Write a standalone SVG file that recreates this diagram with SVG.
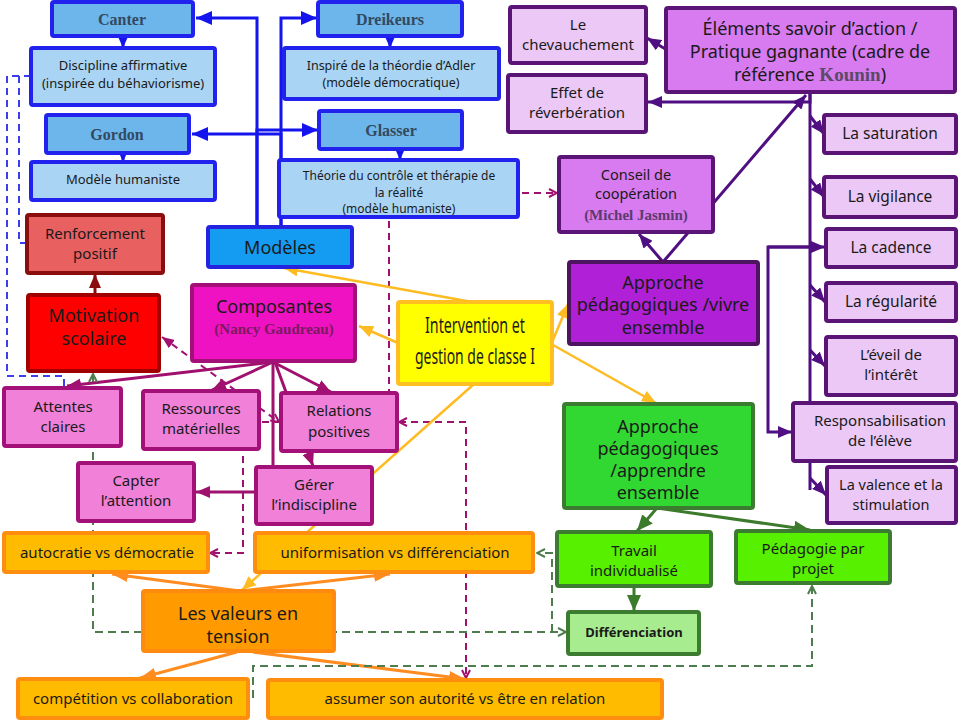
<svg xmlns="http://www.w3.org/2000/svg" width="960" height="720" viewBox="0 0 960 720">
<defs>
<style>
.t{font-family:"Noto Sans","DejaVu Sans",sans-serif;fill:#1a1a1a;text-anchor:middle}
.sf{font-family:"Liberation Serif","Times New Roman",serif;font-weight:bold;text-anchor:middle}
rect{stroke-width:4}
.b1{fill:#6cb6ec;stroke:#2222ee}
.b2{fill:#aad4f4;stroke:#2222ee}
.b3{fill:#149cf2;stroke:#2424e0}
.p1{fill:#d87af0;stroke:#5a1476}
.p2{fill:#ecc8f6;stroke:#5a1476}
.p3{fill:#b020d6;stroke:#4d1460}
.m1{fill:#ee12c2;stroke:#a31078}
.m2{fill:#f080d8;stroke:#a31078}
.r1{fill:#e86060;stroke:#8b0e0e}
.r2{fill:#ff0000;stroke:#a00000}
.y1{fill:#ffff00;stroke:#ffbe22}
.o1{fill:#ffbb00;stroke:#ff8e10}
.o2{fill:#ff9a00;stroke:#ff8a10}
.g1{fill:#32d832;stroke:#3c7c30}
.g2{fill:#56f000;stroke:#3c7c30}
.g3{fill:#a8ec90;stroke:#3c7c30}
.c{fill:none;stroke-linejoin:miter}
.cb{stroke:#1414ee;stroke-width:3}
.cp{stroke:#4f0f82;stroke-width:3}
.cm{stroke:#a0106e;stroke-width:3}
.cr{stroke:#8b0e0e;stroke-width:3}
.cy{stroke:#ffbb22;stroke-width:2.5}
.co{stroke:#ff8c20;stroke-width:3}
.cg{stroke:#3c7a2c;stroke-width:3}
.db{stroke:#3c3cf0;stroke-width:2;stroke-dasharray:7 5}
.dm{stroke:#a0106e;stroke-width:2;stroke-dasharray:7 5}
.dg{stroke:#4d7d4d;stroke-width:2;stroke-dasharray:8 5}
</style>
<marker id="aB" viewBox="0 0 16 14" refX="16" refY="7" markerWidth="16" markerHeight="14" markerUnits="userSpaceOnUse" orient="auto"><path d="M0,0L16,7L0,14z" fill="#1414ee"/></marker>
<marker id="aP" viewBox="0 0 14 12" refX="14" refY="6" markerWidth="14" markerHeight="12" markerUnits="userSpaceOnUse" orient="auto"><path d="M0,0L14,6L0,12z" fill="#4f0f82"/></marker>
<marker id="aM" viewBox="0 0 14 12" refX="14" refY="6" markerWidth="14" markerHeight="12" markerUnits="userSpaceOnUse" orient="auto"><path d="M0,0L14,6L0,12z" fill="#a0106e"/></marker>
<marker id="aR" viewBox="0 0 14 12" refX="14" refY="6" markerWidth="14" markerHeight="12" markerUnits="userSpaceOnUse" orient="auto"><path d="M0,0L14,6L0,12z" fill="#8b0e0e"/></marker>
<marker id="aY" viewBox="0 0 14 12" refX="14" refY="6" markerWidth="14" markerHeight="12" markerUnits="userSpaceOnUse" orient="auto"><path d="M0,0L14,6L0,12z" fill="#ffbb22"/></marker>
<marker id="aO" viewBox="0 0 16 12" refX="16" refY="6" markerWidth="16" markerHeight="12" markerUnits="userSpaceOnUse" orient="auto"><path d="M0,0L16,6L0,12z" fill="#ff8c20"/></marker>
<marker id="aG" viewBox="0 0 16 14" refX="16" refY="7" markerWidth="16" markerHeight="14" markerUnits="userSpaceOnUse" orient="auto"><path d="M0,0L16,7L0,14z" fill="#3c7a2c"/></marker>
<marker id="dM" viewBox="0 0 10 10" refX="9" refY="5" markerWidth="10" markerHeight="10" markerUnits="userSpaceOnUse" orient="auto-start-reverse"><path d="M1,1L9,5L1,9" fill="none" stroke="#a0106e" stroke-width="2"/></marker>
<marker id="fM" viewBox="0 0 12 10" refX="12" refY="5" markerWidth="12" markerHeight="10" markerUnits="userSpaceOnUse" orient="auto-start-reverse"><path d="M0,0L12,5L0,10z" fill="#a0106e"/></marker>
<marker id="dG" viewBox="0 0 10 10" refX="9" refY="5" markerWidth="10" markerHeight="10" markerUnits="userSpaceOnUse" orient="auto-start-reverse"><path d="M1,1L9,5L1,9" fill="none" stroke="#4d7d4d" stroke-width="2"/></marker>
</defs>
<rect x="0" y="0" width="960" height="720" fill="#ffffff" style="stroke:none"/>

<g id="connectors" class="c">
<path class="c cb" d="M257,227L257,18L196,18" marker-end="url(#aB)"/>
<path class="c cb" d="M281,227L281,18L317,18" marker-end="url(#aB)"/>
<path class="c cb" d="M281,227L281,134L192,134" marker-end="url(#aB)"/>
<path class="c cb" d="M257,227L257,130L318,130" marker-end="url(#aB)"/>
<path class="c cb" d="M123,36L123,48" marker-end="url(#aB)"/>
<path class="c cb" d="M123,136L123,162" marker-end="url(#aB)"/>
<path class="c cb" d="M390,36L390,48" marker-end="url(#aB)"/>
<path class="c cb" d="M400,149L400,160" marker-end="url(#aB)"/>
<path class="c db" d="M31,76L19,76L19,243L27,243"/>
<path class="c db" d="M31,76L7,76L7,376L64,376L64,388"/>

<path class="c cp" d="M672,53L647,38" marker-end="url(#aP)"/>
<path class="c cp" d="M810,92L810,102L648,102" marker-end="url(#aP)"/>
<path class="c cp" d="M810,92L810,490"/>
<path class="c cp" d="M810,116L824,134" marker-end="url(#aP)"/>
<path class="c cp" d="M810,179L824,197" marker-end="url(#aP)"/>
<path class="c cp" d="M768,247L825,247" marker-end="url(#aP)"/>
<path class="c cp" d="M810,285L825,302" marker-end="url(#aP)"/>
<path class="c cp" d="M810,350L825,366" marker-end="url(#aP)"/>
<path class="c cp" d="M810,478L826,495" marker-end="url(#aP)"/>
<path class="c cp" d="M810,247L768,247L768,432L792,432" marker-end="url(#aP)"/>
<path class="c cp" d="M663,262L806,95" marker-end="url(#aP)"/>
<path class="c cp" d="M663,262L639,234" marker-end="url(#aP)"/>

<path class="c cr" d="M95,295L95,274" marker-end="url(#aR)"/>

<path class="c cm" d="M273,362L67,386" marker-end="url(#aM)"/>
<path class="c cm" d="M273,362L212,390" marker-end="url(#aM)"/>
<path class="c cm" d="M273,362L331,392" marker-end="url(#aM)"/>
<path class="c cm" d="M275,362L313,466" marker-end="url(#aM)"/>
<path class="c cm" d="M273,362L273,492L196,492" marker-end="url(#aM)"/>
<path class="c dm" d="M162,337L279,422" marker-start="url(#fM)" marker-end="url(#dM)"/>
<path class="c dm" d="M281,422L243,422L243,553L210,553" marker-end="url(#dM)"/>
<path class="c dm" d="M389,420L389,193L557,193" marker-end="url(#dM)"/>
<path class="c dm" d="M399,422L466,422L466,678" marker-start="url(#dM)" marker-end="url(#dM)"/>

<path class="c cy" d="M472,302L284,268" marker-end="url(#aY)"/>
<path class="c cy" d="M398,343L359,326" marker-end="url(#aY)"/>
<path class="c cy" d="M553,340L568,304" marker-end="url(#aY)"/>
<path class="c cy" d="M553,345L656,403" marker-end="url(#aY)"/>
<path class="c cy" d="M474,384L242,590" marker-end="url(#aY)"/>

<path class="c co" d="M240,591L112,574" marker-end="url(#aO)"/>
<path class="c co" d="M240,591L390,574" marker-end="url(#aO)"/>
<path class="c co" d="M237,652L140,678" marker-end="url(#aO)"/>
<path class="c co" d="M253,652L465,679" marker-end="url(#aO)"/>

<path class="c cg" d="M657,508L637,531" marker-end="url(#aG)"/>
<path class="c cg" d="M657,508L810,530" marker-end="url(#aG)"/>
<path class="c cg" d="M634,586L634,611" marker-end="url(#aG)"/>
<path class="c dg" d="M93,374L93,632L566,632" marker-start="url(#dG)" marker-end="url(#dG)"/>
<path class="c dg" d="M552,632L552,553L537,553" marker-end="url(#dG)"/>
<path class="c dg" d="M812,586L812,666L253,666L253,699L22,699" marker-start="url(#dG)" marker-end="url(#dG)"/>
</g>

<g id="canter"><rect class="b1" x="52" y="2" width="141" height="34" rx="2"/><text class="sf" x="122" y="25" font-size="16" fill="#34495e">Canter</text></g>
<g id="dreikeurs"><rect class="b1" x="318" y="2" width="144" height="34" rx="2"/><text class="sf" x="390" y="25" font-size="16" fill="#34495e">Dreikeurs</text></g>
<g id="gordon"><rect class="b1" x="46" y="115" width="143" height="38" rx="2"/><text class="sf" x="117" y="140" font-size="16" fill="#34495e">Gordon</text></g>
<g id="glasser"><rect class="b1" x="319" y="111" width="143" height="38" rx="2"/><text class="sf" x="391" y="136" font-size="16" fill="#34495e">Glasser</text></g>
<g id="discipline"><rect class="b2" x="31" y="48" width="184" height="57" rx="2"/><text class="t" x="123" y="70" font-size="13">Discipline affirmative</text><text class="t" x="123" y="88" font-size="13">(inspirée du béhaviorisme)</text></g>
<g id="adler"><rect class="b2" x="284" y="48" width="215" height="51" rx="2"/><text class="t" x="391" y="70" font-size="12.5">Inspiré de la théordie d’Adler</text><text class="t" x="391" y="87" font-size="12.5">(modèle démocratique)</text></g>
<g id="humaniste"><rect class="b2" x="31" y="162" width="184" height="38" rx="2"/><text class="t" x="123" y="184" font-size="13">Modèle humaniste</text></g>
<g id="theorie"><rect class="b2" x="279" y="160" width="239" height="57" rx="2"/><text class="t" x="399" y="180" font-size="12">Théorie du contrôle et thérapie de</text><text class="t" x="399" y="196.5" font-size="12">la réalité</text><text class="t" x="399" y="213" font-size="12">(modèle humaniste)</text></g>
<g id="modeles"><rect class="b3" x="208" y="227" width="144" height="40" rx="2"/><text class="t" x="280" y="254" font-size="18">Modèles</text></g>

<g id="chevauchement"><rect class="p2" x="510" y="7" width="136" height="56" rx="2"/><text class="t" x="578" y="30" font-size="15">Le</text><text class="t" x="578" y="50" font-size="15">chevauchement</text></g>
<g id="reverberation"><rect class="p2" x="508" y="75" width="138" height="57" rx="2"/><text class="t" x="577" y="98" font-size="15">Effet de</text><text class="t" x="577" y="118" font-size="15">réverbération</text></g>
<g id="elements"><rect class="p1" x="666" y="8" width="289" height="84" rx="2"/><text class="t" x="810" y="35" font-size="18">Éléments savoir d’action /</text><text class="t" x="810" y="58" font-size="18">Pratique gagnante (cadre de</text><text class="t" x="810" y="81" font-size="18">référence <tspan style="font-family:'Liberation Serif',serif;font-weight:bold" fill="#5a4a66" font-size="19">Kounin</tspan>)</text></g>
<g id="conseil"><rect class="p1" x="559" y="157" width="154" height="75" rx="2"/><text class="t" x="636" y="180" font-size="14.5">Conseil de</text><text class="t" x="636" y="199" font-size="14.5">coopération</text><text class="sf" x="636" y="220" font-size="15" fill="#5a3a70">(Michel Jasmin)</text></g>
<g id="vivre"><rect class="p3" x="569" y="262" width="189" height="82" rx="2"/><text class="t" x="663" y="289" font-size="18">Approche</text><text class="t" x="663" y="311" font-size="18">pédagogiques /vivre</text><text class="t" x="663" y="334" font-size="18">ensemble</text></g>
<g id="saturation"><rect class="p2" x="824" y="115" width="132" height="38" rx="2"/><text class="t" x="890" y="139" font-size="15.5">La saturation</text></g>
<g id="vigilance"><rect class="p2" x="824" y="177" width="132" height="40" rx="2"/><text class="t" x="890" y="202" font-size="15.5">La vigilance</text></g>
<g id="cadence"><rect class="p2" x="826" y="229" width="130" height="38" rx="2"/><text class="t" x="891" y="253" font-size="15.5">La cadence</text></g>
<g id="regularite"><rect class="p2" x="826" y="283" width="130" height="38" rx="2"/><text class="t" x="891" y="307" font-size="15.5">La régularité</text></g>
<g id="eveil"><rect class="p2" x="826" y="337" width="130" height="58" rx="2"/><text class="t" x="891" y="360" font-size="15">L’éveil de</text><text class="t" x="891" y="380" font-size="15">l’intérêt</text></g>
<g id="responsabilisation"><rect class="p2" x="793" y="403" width="163" height="58" rx="2"/><text class="t" x="880" y="426" font-size="15">Responsabilisation</text><text class="t" x="880" y="446" font-size="15">de l’élève</text></g>
<g id="valence"><rect class="p2" x="827" y="467" width="129" height="56" rx="2"/><text class="t" x="891" y="490" font-size="14.5">La valence et la</text><text class="t" x="891" y="510" font-size="14.5">stimulation</text></g>

<g id="intervention"><rect class="y1" x="398" y="302" width="154" height="82" rx="2"/><text class="t" x="475" y="333" font-size="21" textLength="100" lengthAdjust="spacingAndGlyphs">Intervention et</text><text class="t" x="475" y="364" font-size="21" textLength="120" lengthAdjust="spacingAndGlyphs">gestion de classe I</text></g>

<g id="composantes"><rect class="m1" x="192" y="285" width="163" height="76" rx="2"/><text class="t" x="274" y="313" font-size="18" fill="#2a0022">Composantes</text><text class="sf" x="274" y="334" font-size="15" fill="#7a1a60">(Nancy Gaudreau)</text></g>
<g id="renforcement"><rect class="r1" x="27" y="215" width="136" height="58" rx="2"/><text class="t" x="95" y="239" font-size="15">Renforcement</text><text class="t" x="95" y="259" font-size="15">positif</text></g>
<g id="motivation"><rect class="r2" x="28" y="295" width="131" height="76" rx="2"/><text class="t" x="94" y="322" font-size="18" fill="#3a0000">Motivation</text><text class="t" x="94" y="345" font-size="18" fill="#3a0000">scolaire</text></g>
<g id="attentes"><rect class="m2" x="4" y="388" width="117" height="58" rx="2"/><text class="t" x="63" y="412" font-size="15">Attentes</text><text class="t" x="63" y="432" font-size="15">claires</text></g>
<g id="ressources"><rect class="m2" x="143" y="391" width="116" height="58" rx="2"/><text class="t" x="201" y="414" font-size="15">Ressources</text><text class="t" x="201" y="434" font-size="15">matérielles</text></g>
<g id="relations"><rect class="m2" x="281" y="393" width="116" height="58" rx="2"/><text class="t" x="339" y="416" font-size="15">Relations</text><text class="t" x="339" y="437" font-size="15">positives</text></g>
<g id="capter"><rect class="m2" x="78" y="463" width="116" height="58" rx="2"/><text class="t" x="136" y="486" font-size="15">Capter</text><text class="t" x="136" y="506" font-size="15">l’attention</text></g>
<g id="gerer"><rect class="m2" x="256" y="467" width="116" height="57" rx="2"/><text class="t" x="314" y="490" font-size="15">Gérer</text><text class="t" x="314" y="510" font-size="15">l’indiscipline</text></g>

<g id="autocratie"><rect class="o1" x="4" y="533" width="204" height="39" rx="2"/><text class="t" x="107" y="558" font-size="15">autocratie vs démocratie</text></g>
<g id="uniformisation"><rect class="o1" x="255" y="533" width="278" height="39" rx="2"/><text class="t" x="395" y="558" font-size="15">uniformisation vs différenciation</text></g>
<g id="valeurs"><rect class="o2" x="143" y="591" width="191" height="60" rx="2"/><text class="t" x="238" y="620" font-size="18">Les valeurs en</text><text class="t" x="238" y="643" font-size="18">tension</text></g>
<g id="competition"><rect class="o1" x="18" y="679" width="230" height="39" rx="2"/><text class="t" x="133" y="704" font-size="15">compétition vs collaboration</text></g>
<g id="assumer"><rect class="o1" x="268" y="680" width="394" height="38" rx="2"/><text class="t" x="465" y="704" font-size="15">assumer son autorité vs être en relation</text></g>

<g id="apprendre"><rect class="g1" x="564" y="404" width="189" height="104" rx="2"/><text class="t" x="658" y="433" font-size="18">Approche</text><text class="t" x="658" y="455" font-size="18">pédagogiques</text><text class="t" x="658" y="477" font-size="18">/apprendre</text><text class="t" x="658" y="499" font-size="18">ensemble</text></g>
<g id="travail"><rect class="g2" x="557" y="532" width="154" height="54" rx="2"/><text class="t" x="634" y="556" font-size="15">Travail</text><text class="t" x="634" y="576" font-size="15">individualisé</text></g>
<g id="projet"><rect class="g2" x="736" y="531" width="154" height="52" rx="2"/><text class="t" x="813" y="554" font-size="15">Pédagogie par</text><text class="t" x="813" y="574" font-size="15">projet</text></g>
<g id="differenciation"><rect class="g3" x="568" y="612" width="131" height="42" rx="2"/><text class="t" x="634" y="637" font-size="13" font-weight="bold">Différenciation</text></g>
</svg>
